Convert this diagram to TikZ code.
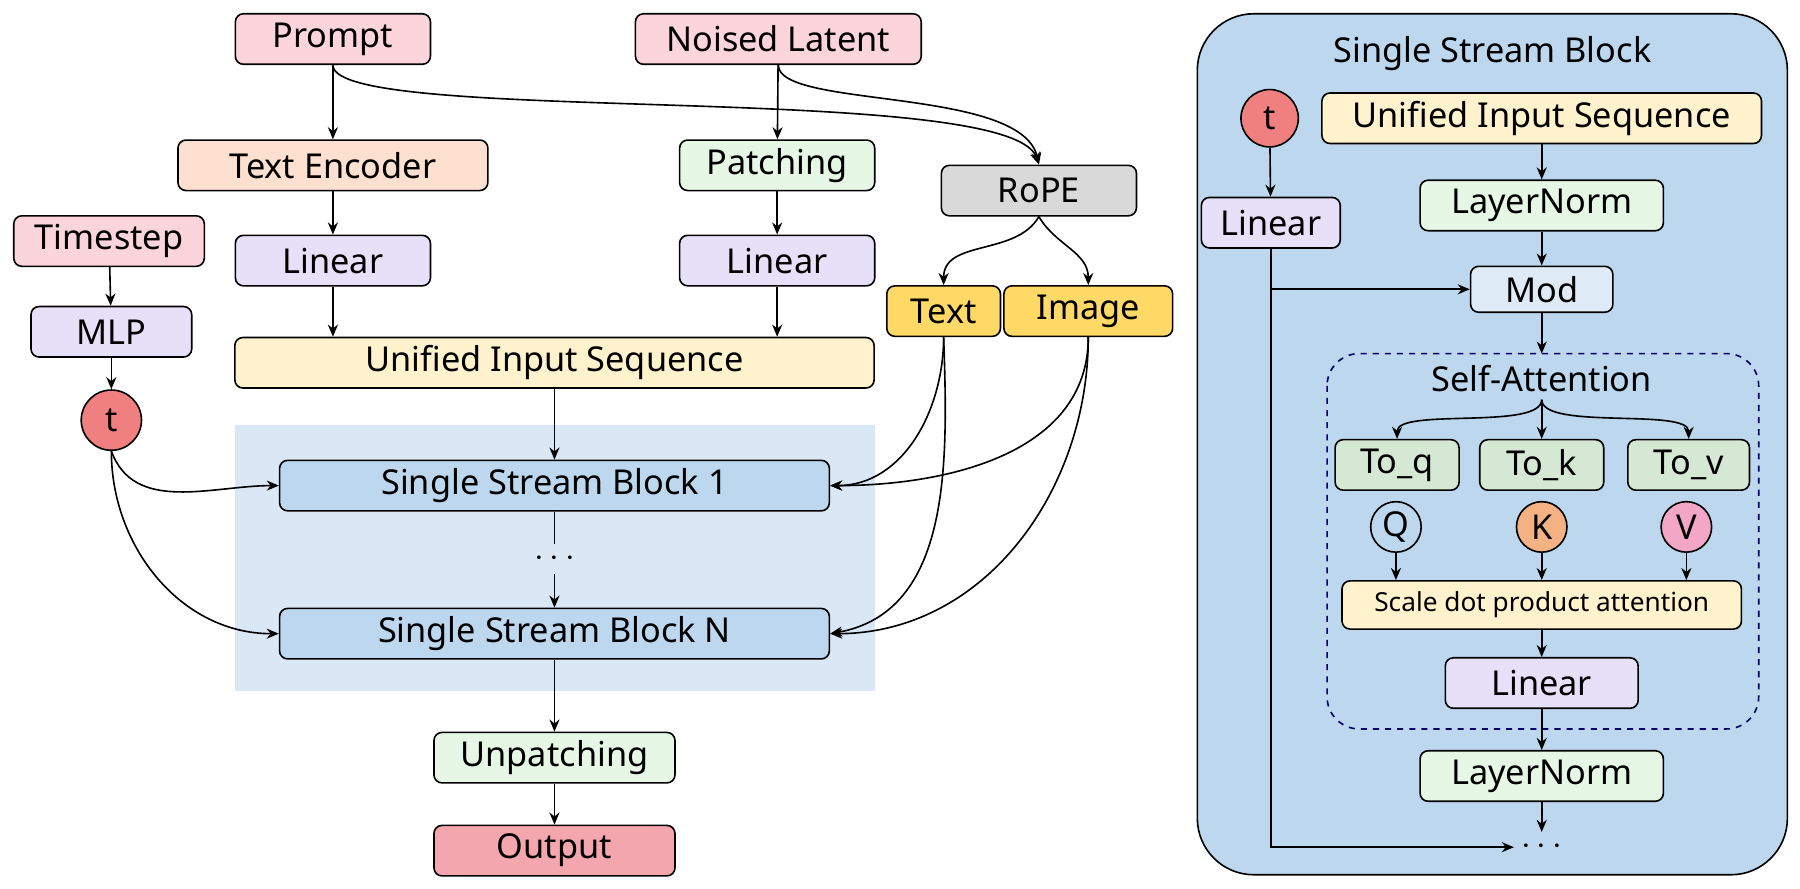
\documentclass[tikz,border=0pt]{standalone}
\usepackage{fontspec}
\setmainfont{Noto Sans}
\usetikzlibrary{arrows.meta,positioning,calc}
\definecolor{cpink}{HTML}{FCD5DC}
\definecolor{cpeach}{HTML}{FDE0D0}
\definecolor{cgreen}{HTML}{E6F7E6}
\definecolor{cgray}{HTML}{D9D9D9}
\definecolor{cpurple}{HTML}{E6E0F8}
\definecolor{cyellow}{HTML}{FFF2CC}
\definecolor{cgold}{HTML}{FFD966}
\definecolor{cblue}{HTML}{BDD7EE}
\definecolor{cbg}{HTML}{DAE8F5}
\definecolor{cout}{HTML}{F4A6AE}
\definecolor{cred}{HTML}{F08080}
\definecolor{corange}{HTML}{F4B183}
\definecolor{cvpink}{HTML}{F4A6C6}
\definecolor{cmod}{HTML}{DEEBF7}
\definecolor{cqk}{HTML}{D5E8D4}
\tikzset{
  box/.style={draw,thick,rounded corners=4pt,minimum height=0.88cm,inner sep=2pt,font=\fontsize{17}{20}\selectfont},
  circ/.style={draw,thick,circle,minimum size=1.05cm,inner sep=0pt,font=\fontsize{17}{20}\selectfont},
}
\begin{document}
\begin{tikzpicture}[x=0.02cm,y=-0.02cm,thick,>={Stealth[width=5pt,length=6pt]}]
\useasboundingbox (0,0) rectangle (1568,774);
% left part
\fill[cbg] (205,370) rectangle (762,602);
\node[box,fill=cpink,minimum width=3.4cm] (prompt) at (290,34) {Prompt};
\node[box,fill=cpink,minimum width=4.98cm] (noised) at (678,34) {Noised Latent};
\node[box,fill=cpeach,minimum width=5.4cm] (tenc) at (290,144) {Text Encoder};
\node[box,fill=cgreen,minimum width=3.4cm] (patch) at (677,144) {Patching};
\node[box,fill=cgray,minimum width=3.4cm] (rope) at (905,166) {RoPE};
\node[box,fill=cpink,minimum width=3.32cm] (tstep) at (95,210) {Timestep};
\node[box,fill=cpurple,minimum width=3.4cm] (linA) at (290,227) {Linear};
\node[box,fill=cpurple,minimum width=3.4cm] (linB) at (677,227) {Linear};
\node[box,fill=cpurple,minimum width=2.8cm] (mlp) at (97,289) {MLP};
\node[box,fill=cgold,minimum width=1.98cm] (text) at (822,271) {Text};
\node[box,fill=cgold,minimum width=2.94cm] (image) at (948,271) {Image};
\node[box,fill=cyellow,minimum width=11.14cm] (uis) at (483,316) {Unified Input Sequence};
\node[circ,fill=cred] (t) at (97,366) {t};
\node[box,fill=cblue,minimum width=9.58cm] (ssb1) at (483,423) {Single Stream Block 1};
\node[font=\fontsize{17}{20}\selectfont] (dots) at (483,487) {$\cdots$};
\node[box,fill=cblue,minimum width=9.58cm] (ssbn) at (483,552) {Single Stream Block N};
\node[box,fill=cgreen,minimum width=4.2cm] (unpatch) at (483,660) {Unpatching};
\node[box,fill=cout,minimum width=4.2cm] (output) at (483,741) {Output};
\draw[->] (prompt) -- (tenc);
\draw[->] (noised) -- (patch);
\draw[->] (prompt.south) .. controls (290,110) and (880,70) .. (rope.north);
\draw[->] (noised.south) .. controls (678,95) and (890,75) .. (rope.north);
\draw[->] (tenc) -- (linA);
\draw[->] (patch) -- (linB);
\draw[->] (linA) -- (linA |- uis.north);
\draw[->] (linB) -- (linB |- uis.north);
\draw[->] (tstep) -- (mlp);
\draw[->] (mlp) -- (t);
\draw[->] (rope.south) to[out=-120,in=90] (text.north);
\draw[->] (rope.south) to[out=-60,in=90] (image.north);
\draw[->] (uis) -- (ssb1);
\draw (ssb1) -- (dots);
\draw[->] (dots) -- (ssbn);
\draw[->] (ssbn) -- (unpatch);
\draw[->] (unpatch) -- (output);
\draw[->] (t.south) to[out=-70,in=180] (ssb1.west);
\draw[->] (t.south) to[out=-90,in=180] (ssbn.west);
\draw[->] (text.south) to[out=-90,in=0] (ssb1.east);
\draw[->] (text.south) to[out=-88,in=10] (ssbn.east);
\draw[->] (image.south) to[out=-90,in=0] (ssb1.east);
\draw[->] (image.south) to[out=-90,in=0] (ssbn.east);
% right part
\draw[thick,fill=cblue,rounded corners=28pt] (1043,12) rectangle (1557,762);
\node[font=\fontsize{17}{20}\selectfont] (title) at (1300,47) {Single Stream Block};
\draw[thick,dashed,draw=blue!40!black,rounded corners=16pt] (1156,308) rectangle (1532,635);
\coordinate (attn) at (1343,308);
\node[font=\fontsize{17}{20}\selectfont] (sa) at (1343,330) {Self-Attention};
\node[circ,fill=cred,minimum size=1cm] (tr) at (1106,103) {t};
\node[box,fill=cyellow,minimum width=7.66cm] (uisr) at (1343,103) {Unified Input Sequence};
\node[box,fill=cgreen,minimum width=4.24cm] (lnA) at (1343,179) {LayerNorm};
\node[box,fill=cpurple,minimum width=2.42cm] (linr) at (1107,194) {Linear};
\node[box,fill=cmod,minimum width=2.48cm,minimum height=0.8cm] (mod) at (1343,252) {Mod};
\node[box,fill=cqk,minimum width=2.16cm] (toq) at (1217,405) {To\_q};
\node[box,fill=cqk,minimum width=2.16cm] (tok) at (1343,405) {To\_k};
\node[box,fill=cqk,minimum width=2.12cm] (tov) at (1471,405) {To\_v};
\node[circ,fill=cblue,minimum size=0.88cm] (q) at (1216,459) {Q};
\node[circ,fill=corange,minimum size=0.88cm] (k) at (1343,459) {K};
\node[circ,fill=cvpink,minimum size=0.88cm] (v) at (1469,459) {V};
\node[box,fill=cyellow,minimum width=6.96cm,minimum height=0.84cm,font=\fontsize{13}{16}\selectfont] (sdpa) at (1343,527) {Scale dot product attention};
\node[box,fill=cpurple,minimum width=3.36cm] (linB2) at (1343,595) {Linear};
\node[box,fill=cgreen,minimum width=4.24cm] (lnB) at (1343,676) {LayerNorm};
\node[font=\fontsize{17}{20}\selectfont] (rdots) at (1343,738) {$\cdots$};
\draw[->] (uisr) -- (lnA);
\draw[->] (lnA) -- (mod);
\draw[->] (mod) -- (attn);
\draw[->] (tr) -- (linr);
\draw[->] (linr.south) -- (linr.south |- rdots) -- (rdots.west);
\draw[->] (linr.south |- mod.west) -- (mod.west);
\draw[->] (sa.south) .. controls (1343,375) and (1217,355) .. (toq.north);
\draw[->] (sa.south) -- (tok.north);
\draw[->] (sa.south) .. controls (1343,375) and (1471,355) .. (tov.north);
\draw[->] (q) -- (q |- sdpa.north);
\draw[->] (k) -- (k |- sdpa.north);
\draw[->] (v) -- (v |- sdpa.north);
\draw[->] (sdpa) -- (linB2);
\draw[->] (linB2) -- (lnB);
\draw[->] (lnB) -- (rdots);
\end{tikzpicture}
\end{document}
